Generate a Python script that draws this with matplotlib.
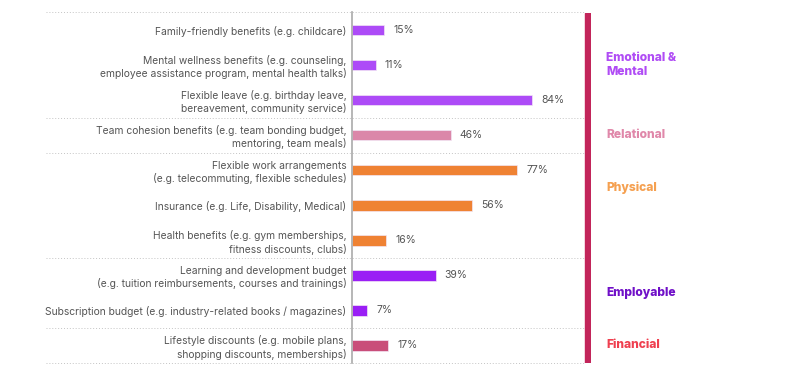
import matplotlib
matplotlib.use("Agg")
import matplotlib.pyplot as plt
from matplotlib.transforms import blended_transform_factory

plt.rcParams["font.family"] = ["Inter", "DejaVu Sans"]

# ── Data ──────────────────────────────────────────────────────────────────────
benefits = [
    "Family-friendly benefits (e.g. childcare)",
    "Mental wellness benefits (e.g. counseling,\nemployee assistance program, mental health talks)",
    "Flexible leave (e.g. birthday leave,\nbereavement, community service)",
    "Team cohesion benefits (e.g. team bonding budget,\nmentoring, team meals)",
    "Flexible work arrangements\n(e.g. telecommuting, flexible schedules)",
    "Insurance (e.g. Life, Disability, Medical)",
    "Health benefits (e.g. gym memberships,\nfitness discounts, clubs)",
    "Learning and development budget\n(e.g. tuition reimbursements, courses and trainings)",
    "Subscription budget (e.g. industry-related books / magazines)",
    "Lifestyle discounts (e.g. mobile plans,\nshopping discounts, memberships)",
]
values = [15, 11, 84, 46, 77, 56, 16, 39, 7, 17]
bar_group = ["emo", "emo", "emo", "rel", "phy", "phy", "phy", "emp", "emp", "fin"]

groups = ["emo", "rel", "phy", "emp", "fin"]
group_labels = ["Emotional &\nMental", "Relational", "Physical", "Employable", "Financial"]
group_label_y = [1, 3, 4.5, 7.5, 9]
separators = [-0.5, 2.5, 3.5, 6.5, 8.5, 9.5]

bar_colors = {"emo": "#AD4BF7", "rel": "#DB87A9", "phy": "#EF8233",
              "emp": "#9A1FF5", "fin": "#C94E7A"}
label_colors = {"emo": "#B04CF5", "rel": "#E088AA", "phy": "#F5A050",
                "emp": "#7010C8", "fin": "#EF4050"}

# ── Figure ────────────────────────────────────────────────────────────────────
W, H = 800, 383
fig = plt.figure(figsize=(8, 3.83), dpi=100)
px_per_unit = 180 / 84
x0_px, right_px = 352, 591
top_px, bot_px = 12.5, 363
ax = fig.add_axes([x0_px / W, (H - bot_px) / H,
                   (right_px - x0_px) / W, (bot_px - top_px) / H])
xmax = (right_px - x0_px) / px_per_unit
ax.set_xlim(0, xmax)
ax.set_ylim(9.5, -0.5)

ypos = list(range(len(values)))
ax.barh(ypos, values, height=0.3,
        color=[bar_colors[g] for g in bar_group],
        edgecolor="#F3E6F5", linewidth=0.5, zorder=3)

for y, v in zip(ypos, values):
    ax.annotate(f"{v}%", xy=(v, y), xytext=(6.5, 0), textcoords="offset points",
                ha="left", va="center", fontsize=7.5, color="#555555")

# dotted separators spanning label + bar region
left_units = -(x0_px - 46) / px_per_unit
crim_left = (585 - x0_px) / px_per_unit
for s in separators:
    ax.hlines(s, left_units, crim_left, colors="#C4C4C4", linestyles=(0, (1, 2)),
              linewidth=0.7, clip_on=False, zorder=1)

# crimson vertical band
ax.axvspan(crim_left, xmax, color="#C2255A", zorder=2)

# group labels
tr = blended_transform_factory(fig.transFigure, ax.transData)
for g, lab, gy in zip(groups, group_labels, group_label_y):
    fig.text(606 / W, gy, lab, transform=tr, ha="left", va="center",
             fontsize=8.7, fontweight="heavy", color=label_colors[g],
             linespacing=1.25)

ax.set_yticks(ypos)
ax.set_yticklabels(benefits, fontsize=7.4, color="#555555", linespacing=1.25)
ax.tick_params(axis="y", length=0, pad=4)
ax.set_xticks([])

for sp in ["top", "right", "bottom"]:
    ax.spines[sp].set_visible(False)
ax.spines["left"].set_color("#AAAAAA")
ax.spines["left"].set_linewidth(1.2)
ax.spines["left"].set_zorder(4)

fig.savefig("out.png", dpi=100)
